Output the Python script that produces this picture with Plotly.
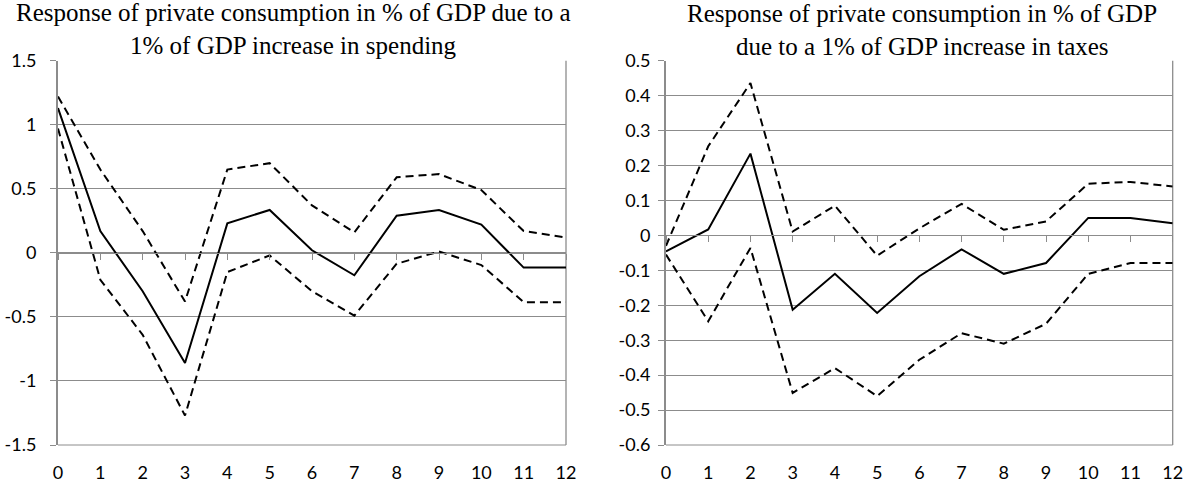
import plotly.graph_objects as go

# Horizon (years after the shock)
horizon = list(range(13))

# Response to a 1% of GDP increase in spending
spend_irf = [1.13, 0.17, -0.30, -0.86, 0.23, 0.335, 0.02, -0.175, 0.29, 0.335, 0.22, -0.115, -0.115]
spend_upper = [1.22, 0.65, 0.17, -0.38, 0.65, 0.70, 0.37, 0.16, 0.59, 0.615, 0.49, 0.17, 0.12]
spend_lower = [0.97, -0.21, -0.64, -1.27, -0.15, -0.02, -0.30, -0.49, -0.085, 0.01, -0.095, -0.385, -0.385]

# Response to a 1% of GDP increase in taxes
tax_irf = [-0.046, 0.017, 0.234, -0.213, -0.11, -0.222, -0.117, -0.04, -0.11, -0.079, 0.05, 0.05, 0.035]
tax_upper = [-0.03, 0.255, 0.436, 0.011, 0.085, -0.058, 0.02, 0.09, 0.016, 0.04, 0.148, 0.153, 0.14]
tax_lower = [-0.055, -0.246, -0.036, -0.451, -0.38, -0.46, -0.356, -0.28, -0.31, -0.253, -0.11, -0.079, -0.079]

# Axis tick values and labels
spend_ticks = [-1.5, -1.0, -0.5, 0.0, 0.5, 1.0, 1.5]
spend_ticktext = ["-1.5", "-1", "-0.5", "0", "0.5", "1", "1.5"]
tax_ticks = [-0.6, -0.5, -0.4, -0.3, -0.2, -0.1, 0.0, 0.1, 0.2, 0.3, 0.4, 0.5]
tax_ticktext = ["-0.6", "-0.5", "-0.4", "-0.3", "-0.2", "-0.1", "0", "0.1", "0.2", "0.3", "0.4", "0.5"]
horizon_ticktext = [str(h) for h in horizon]

titles = [
    ["Response of private consumption in % of GDP due to a", "1% of GDP increase in spending"],
    ["Response of private consumption in % of GDP", "due to a 1% of GDP increase in taxes"],
]

W, H = 1186, 485
GRID = "#8c8c8c"
TICK_FONT = dict(family="Lato, Carlito, Calibri, sans-serif", size=18, color="#000000")
TITLE_FONT = dict(family="Liberation Serif, Times New Roman, serif", size=25, color="#000000")

left_dom = [58 / W, 566 / W]
right_dom = [666 / W, 1172.7 / W]
y_dom = [40 / H, 424.3 / H]
label_y = 468.0  # pixel row of the category labels, below the plot frame

fig = go.Figure()

solid = dict(color="#000000", width=2)
dashed = dict(color="#000000", width=2, dash="8px,5px")

for xa, ya, ir, up, lo in (("x", "y", spend_irf, spend_upper, spend_lower),
                           ("x2", "y2", tax_irf, tax_upper, tax_lower)):
    fig.add_trace(go.Scatter(x=horizon, y=up, mode="lines", line=dashed, xaxis=xa, yaxis=ya,
                             showlegend=False, hoverinfo="skip"))
    fig.add_trace(go.Scatter(x=horizon, y=lo, mode="lines", line=dashed, xaxis=xa, yaxis=ya,
                             showlegend=False, hoverinfo="skip"))
    fig.add_trace(go.Scatter(x=horizon, y=ir, mode="lines", line=solid, xaxis=xa, yaxis=ya,
                             showlegend=False))


def zero_pos(rng):
    """Paper fraction of y = 0 inside the shared vertical domain."""
    return y_dom[0] + (0 - rng[0]) / (rng[1] - rng[0]) * (y_dom[1] - y_dom[0])


def label_standoff(rng):
    """Distance in px from the zero line down to the category label row."""
    zero_px = H * (1 - zero_pos(rng))
    return int(round(label_y - zero_px - 18))


spend_range = [-1.5, 1.5]
tax_range = [-0.6, 0.5]

# the category axis sits on the zero line; its labels are pushed down below the frame
xbase = dict(range=[0, 12], tickvals=horizon, ticktext=horizon_ticktext, showgrid=False,
             zeroline=False, ticks="outside", ticklen=6, tickcolor=GRID, tickwidth=1,
             showline=True, linecolor=GRID, linewidth=1.2, anchor="free", side="bottom",
             tickfont=TICK_FONT, fixedrange=True, automargin=False)
ybase = dict(showgrid=True, gridcolor=GRID, gridwidth=1, zeroline=False,
             showline=True, linecolor=GRID, linewidth=2, ticks="outside",
             ticklen=6, tickcolor=GRID, tickwidth=1, tickfont=TICK_FONT, fixedrange=True,
             automargin=False)

fig.update_layout(
    width=W, height=H,
    margin=dict(l=0, r=0, t=0, b=0, autoexpand=False),
    paper_bgcolor="white", plot_bgcolor="white",
    xaxis=dict(xbase, domain=left_dom, position=zero_pos(spend_range),
               ticklabelstandoff=label_standoff(spend_range)),
    yaxis=dict(ybase, domain=y_dom, anchor="x", range=spend_range, tickvals=spend_ticks,
               ticktext=spend_ticktext, ticklabelstandoff=10),
    xaxis2=dict(xbase, domain=right_dom, position=zero_pos(tax_range),
                ticklabelstandoff=label_standoff(tax_range)),
    yaxis2=dict(ybase, domain=y_dom, anchor="x2", range=tax_range, tickvals=tax_ticks,
                ticktext=tax_ticktext, ticklabelstandoff=4),
)

# plot frame: right edge and bottom edge of each panel
for xr, yr in (("x", "y"), ("x2", "y2")):
    fig.add_shape(type="line", xref=f"{xr} domain", yref=f"{yr} domain", x0=1, x1=1, y0=0, y1=1,
                  line=dict(color=GRID, width=1.3), layer="below")
    fig.add_shape(type="line", xref=f"{xr} domain", yref=f"{yr} domain", x0=0, x1=1, y0=0, y1=0,
                  line=dict(color=GRID, width=1), layer="below")

# chart titles, one annotation per line (baselines ~33 px apart)
for (line1, line2), cx, base2 in ((titles[0], 293, 53.5), (titles[1], 922, 54.5)):
    for text, base in ((line1, base2 - 32.5), (line2, base2)):
        fig.add_annotation(text=text, x=cx / W, y=(H - base) / H, xref="paper", yref="paper",
                           xanchor="center", yanchor="middle", yshift=8, showarrow=False,
                           font=TITLE_FONT)

fig.write_html("out.html", config={"displayModeBar": False})
